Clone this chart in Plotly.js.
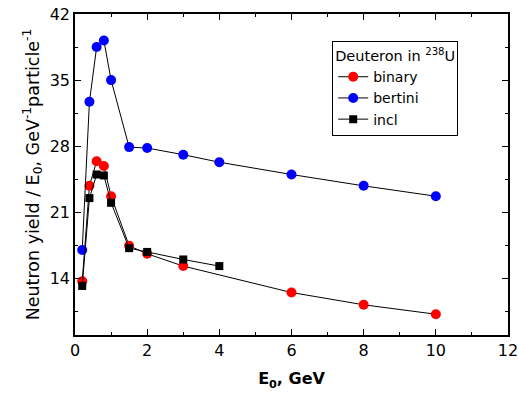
<!DOCTYPE html>
<html><head><meta charset="utf-8">
<script src="https://cdn.plot.ly/plotly-3.0.1.min.js"></script>
<style>body{margin:0;background:#fff}#chart{width:519px;height:397px}</style>
</head><body><div id="chart"></div>
<script>
const binaryE = [0.2, 0.4, 0.6, 0.8, 1.0, 1.5, 2, 3, 6, 8, 10];
const binaryY = [13.7, 23.8, 26.4, 25.9, 22.7, 17.45, 16.6, 15.3, 12.5, 11.2, 10.2];
const bertiniE = [0.2, 0.4, 0.6, 0.8, 1.0, 1.5, 2, 3, 4, 6, 8, 10];
const bertiniY = [17.0, 32.7, 38.5, 39.2, 35.0, 27.9, 27.8, 27.1, 26.3, 25.0, 23.8, 22.7];
const inclE = [0.2, 0.4, 0.6, 0.8, 1.0, 1.5, 2, 3, 4];
const inclY = [13.2, 22.5, 25.0, 24.9, 22.0, 17.2, 16.8, 16.0, 15.3];
const xTicks = [0, 2, 4, 6, 8, 10, 12];
const yTicks = [14, 21, 28, 35, 42];

const font = {family: 'DejaVu Sans', size: 16, color: '#000'};
function tr(x, y, name, color, symbol, size) {
  return {x: x, y: y, name: name, type: 'scatter', mode: 'lines+markers',
    line: {color: '#000', width: 1},
    marker: {color: color, symbol: symbol, size: size}};
}
const data = [
  tr(binaryE, binaryY, 'binary', '#ff0000', 'circle', 10),
  tr(bertiniE, bertiniY, 'bertini', '#0000ff', 'circle', 10),
  tr(inclE, inclY, 'incl', '#000000', 'square', 8)
];
const axisCommon = {showline: true, linecolor: '#000', linewidth: 1.5, mirror: 'ticks',
  ticks: 'inside', ticklen: 6, tickwidth: 1, tickcolor: '#000', showgrid: false, zeroline: false,
  tickfont: font};
const layout = {
  width: 519, height: 397,
  margin: {l: 75, r: 11, t: 14, b: 62},
  paper_bgcolor: '#fff', plot_bgcolor: '#fff',
  font: font,
  showlegend: true,
  xaxis: Object.assign({}, axisCommon, {range: [0, 12], tickvals: xTicks, ticktext: xTicks.map(String),
    minor: {ticks: 'inside', ticklen: 3, tickcolor: '#000', dtick: 1},
    title: {text: '<b>E<sub>0</sub>, GeV</b>', font: {family: 'DejaVu Sans', size: 16}, standoff: 14}}),
  yaxis: Object.assign({}, axisCommon, {range: [8, 42], tickvals: yTicks, ticktext: yTicks.map(String),
    minor: {ticks: 'inside', ticklen: 3, tickcolor: '#000', tickvals: [10.5, 17.5, 24.5, 31.5, 38.5]},
    title: {text: 'Neutron yield / E<sub>0</sub>, GeV<sup>-1</sup>particle<sup>-1</sup>', font: {family: 'DejaVu Sans', size: 17.5}, standoff: 6}}),
  legend: {x: 0.594, y: 0.915, xanchor: 'left', yanchor: 'top',
    bordercolor: '#000', borderwidth: 1, bgcolor: '#fff',
    font: {family: 'DejaVu Sans', size: 14},
    title: {text: 'Deuteron in <sup>238</sup>U', font: {family: 'DejaVu Sans', size: 14.5}},
    tracegroupgap: 0, itemwidth: 30}
};
Plotly.newPlot('chart', data, layout, {displayModeBar: false});
</script></body></html>
